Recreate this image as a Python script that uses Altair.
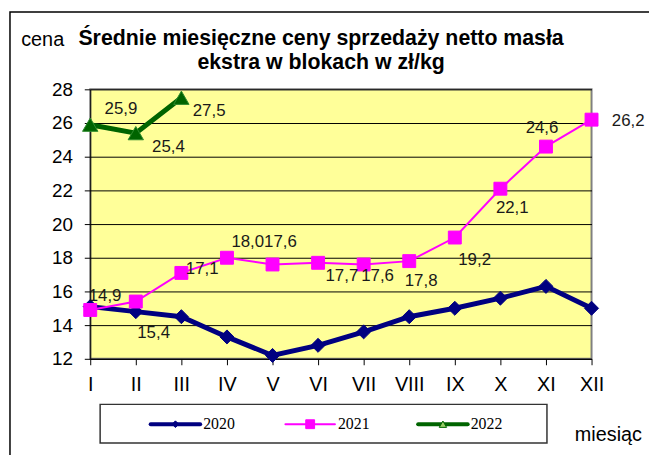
import altair as alt
import pandas as pd

months = ["I", "II", "III", "IV", "V", "VI", "VII", "VIII", "IX", "X", "XI", "XII"]
years = ["2020", "2021", "2022"]
v2020 = [15.1, 14.8, 14.5, 13.3, 12.2, 12.8, 13.6, 14.5, 15.0, 15.6, 16.3, 15.0]
v2021 = [14.9, 15.4, 17.1, 18.0, 17.6, 17.7, 17.6, 17.8, 19.2, 22.1, 24.6, 26.2]
v2022 = [25.9, 25.4, 27.5]
y_ticks = [12, 14, 16, 18, 20, 22, 24, 26, 28]

title_lines = ["Średnie miesięczne ceny sprzedaży netto masła", "ekstra w blokach w zł/kg"]
y_title = "cena"
x_title = "miesiąc"

colors = ["#000080", "#FF00FF", "#006400"]
marker_stroke = ["#000080", "#FF00FF", "#2E8B2E"]
shapes = ["diamond", "square", "triangle-up"]
widths = [5, 2, 5]
msizes = [200, 170, 240]

rows = []
for yr, vals in zip(years, [v2020, v2021, v2022]):
    for m, v in zip(months, vals):
        rows.append({"month": m, "year": yr, "value": v,
                     "label": f"{v:.1f}".replace(".", ",")})
df = pd.DataFrame(rows)
one = pd.DataFrame({"k": [0]})

W, H = 506, 272

x_enc = alt.X("month:N", scale=alt.Scale(type="point", padding=0, domain=months),
              axis=alt.Axis(title=None, labelAngle=0, labelFontSize=20, labelFont="Liberation Sans",
                            labelColor="black", domainColor="black", tickColor="black",
                            tickSize=6, labelPadding=10, grid=False))
y_enc = alt.Y("value:Q", scale=alt.Scale(domain=[12, 28], nice=False, zero=False),
              axis=alt.Axis(title=None, values=y_ticks, labelFontSize=19, labelFont="Liberation Sans",
                            labelColor="black", domainColor="black", tickColor="black",
                            tickSize=6, labelPadding=12, grid=True, gridColor="black",
                            gridWidth=1, gridOpacity=1))

base = alt.Chart(df)

outer = alt.Chart(one).mark_rect(fill=None, stroke="black", strokeWidth=1.5).encode(
    x=alt.value(-81), x2=alt.value(W + 120), y=alt.value(-78), y2=alt.value(H + 150))

series_layers = []
for i, yr in enumerate(years):
    sub = base.transform_filter(alt.datum.year == yr)
    series_layers.append(sub.mark_line(color=colors[i], strokeWidth=widths[i]).encode(x=x_enc, y=y_enc))
    series_layers.append(sub.mark_point(shape=shapes[i], filled=True, fill=colors[i],
                                        stroke=marker_stroke[i], strokeWidth=1, size=msizes[i],
                                        opacity=1).encode(x=x_enc, y=y_enc))

# label placement (dx, dy) per labelled point
placements = {
    "2021": [(15, -14), (18, 32), (21, -4), (21, -16), (8, -23), (24, 13),
             (14, 12), (12, 20), (20, 23), (12, 20), (-4, -19), (37, 1)],
    "2022": [(31, -16), (33, 14), (28, 13)],
}
label_layers = []
for yr, offs in placements.items():
    for i, (dx, dy) in enumerate(offs):
        label_layers.append(
            base.transform_filter(
                (alt.datum.year == yr) & (alt.datum.month == months[i])
            ).mark_text(dx=dx, dy=dy, fontSize=17, font="Liberation Sans", color="#1a1a1a",
                        align="center", baseline="middle").encode(
                x=x_enc, y=y_enc, text="label:N")
        )

title_layers = []
for i, t in enumerate(title_lines):
    title_layers.append(alt.Chart(one).mark_text(fontSize=21.5, font="Liberation Sans", fontWeight="bold",
                                                 color="black", align="center", baseline="middle").encode(
        x=alt.value(233), y=alt.value(-51 + 24 * i), text=alt.value(t)))

y_lab = alt.Chart(one).mark_text(fontSize=20, font="Liberation Sans", color="black",
                                 align="center", baseline="middle").encode(
    x=alt.value(-48), y=alt.value(-50), text=alt.value(y_title))
x_lab = alt.Chart(one).mark_text(fontSize=20, font="Liberation Sans", color="black",
                                 align="center", baseline="middle").encode(
    x=alt.value(523), y=alt.value(349), text=alt.value(x_title))

# legend
leg_y = 338
leg_box = alt.Chart(one).mark_rect(fill="white", stroke="#333333", strokeWidth=1.5).encode(
    x=alt.value(10), x2=alt.value(461), y=alt.value(318), y2=alt.value(357))
legend_layers = [leg_box]
leg_x0 = [61, 197, 331]
leg_marker_fill = ["#000080", "#FF00FF", "#99CC66"]
leg_sizes = [45, 80, 55]
leg_widths = [4, 2, 4]
for i, yr in enumerate(years):
    x0 = leg_x0[i]
    legend_layers.append(alt.Chart(one).mark_rule(color=colors[i], strokeWidth=leg_widths[i],
                                                  strokeCap="round").encode(
        x=alt.value(x0), x2=alt.value(x0 + 50), y=alt.value(leg_y)))
    legend_layers.append(alt.Chart(one).mark_point(shape=shapes[i], filled=True, fill=leg_marker_fill[i],
                                                   stroke=colors[i] if i == 2 else leg_marker_fill[i],
                                                   strokeWidth=1, size=leg_sizes[i], opacity=1).encode(
        x=alt.value(x0 + 25), y=alt.value(leg_y)))
    legend_layers.append(alt.Chart(one).mark_text(align="left", baseline="middle", fontSize=16,
                                                  font="Liberation Serif", color="black").encode(
        x=alt.value(x0 + 53), y=alt.value(leg_y), text=alt.value(yr)))

chart = alt.layer(outer, *series_layers, *label_layers, *title_layers, y_lab, x_lab,
                  *legend_layers).properties(
    width=W, height=H,
    autosize=alt.AutoSizeParams(type="none"),
    padding={"left": 83, "top": 80, "right": 58, "bottom": 95},
    background="white",
).configure_view(fill="#FFFF99", stroke="#808080", strokeWidth=2)

chart.save("out.html", embed_options={"renderer": "svg", "actions": False})
